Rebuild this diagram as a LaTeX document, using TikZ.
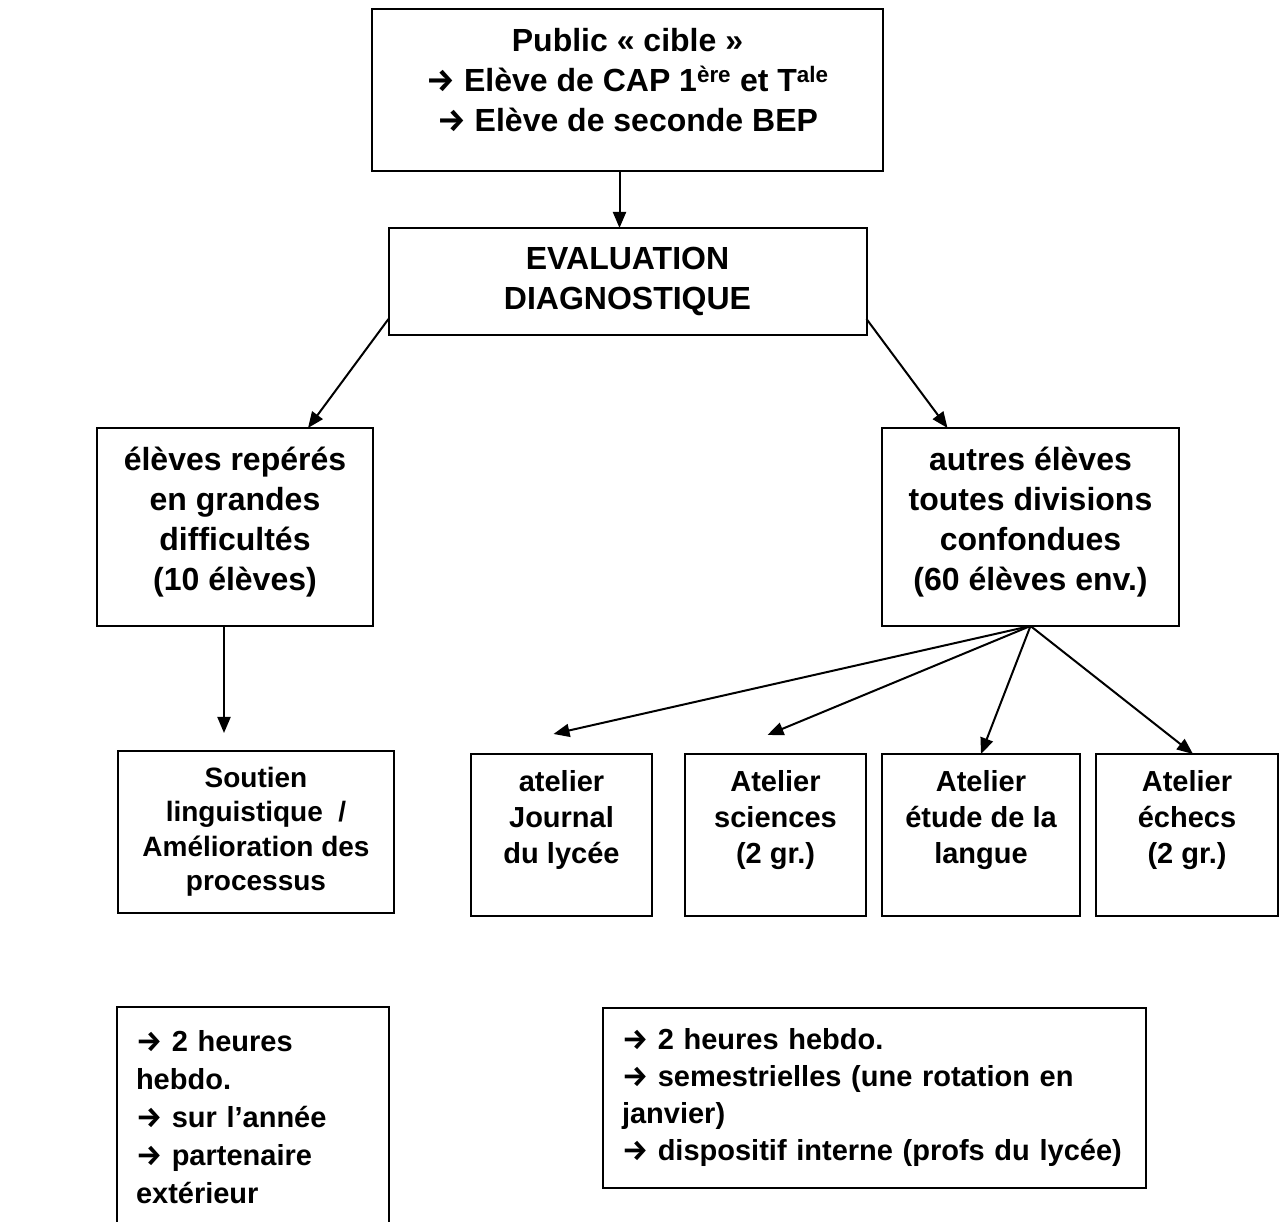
\documentclass[tikz,border=0pt]{standalone}
\usepackage{fontspec}
\setmainfont{Liberation Sans}
\newfontfamily\arrowfont{Fira Sans}
\newcommand{\fleche}{{\arrowfont\bfseries →}}
\usetikzlibrary{arrows.meta,positioning}

\begin{document}
\begin{tikzpicture}[
    x=1pt, y=1pt,
    box/.style={rectangle, draw, line width=2pt, inner sep=0pt, outer sep=0pt, align=center, font=\bfseries\fontsize{32}{40}\selectfont},
    group/.style={box, minimum width=276pt, minimum height=198pt},
    atelier/.style={box, minimum width=181pt, minimum height=162pt, font=\bfseries\fontsize{29}{36}\selectfont},
    planning/.style={box, align=left, inner xsep=19pt, font=\bfseries\fontsize{29}{38}\selectfont},
    arrow/.style={-{Triangle[length=16pt, width=13pt]}, line width=2pt}
]
\useasboundingbox (0,0) rectangle (1284,1222);

% Top row - target public and evaluation
\node[box, minimum width=511pt, minimum height=162pt] (public) at (627.5,1132)
    {Public « cible »\\\fleche{} Elève de CAP 1\textsuperscript{ère} et T\textsuperscript{ale}\\\fleche{} Elève de seconde BEP\\[-20pt]\mbox{}};
\node[box, minimum width=478pt, minimum height=107pt, below=57pt of public] (eval) {EVALUATION\\DIAGNOSTIQUE};

% Middle row - pupil groups
\node[group] (eleves) at (235,695) {élèves repérés\\en grandes\\difficultés\\(10 élèves)\\[-24pt]\mbox{}};
\node[group, minimum width=297pt] (autres) at (1030.5,695) {autres élèves\\toutes divisions\\confondues\\(60 élèves env.)\\[-24pt]\mbox{}};

% Lower row - support and workshops
\node[atelier, minimum width=276pt, font=\bfseries\fontsize{28}{34.5}\selectfont] (soutien) at (256,390)
    {Soutien\\linguistique~ /\\Amélioration des\\processus};
\node[atelier] (journal) at (561.5,387) {atelier\\Journal\\du lycée\\\mbox{}};
\node[atelier, right=33pt of journal] (sciences) {Atelier\\sciences\\(2 gr.)\\\mbox{}};
\node[atelier, minimum width=198pt, right=16pt of sciences] (etude) {Atelier\\étude de la\\langue\\\mbox{}};
\node[atelier, minimum width=182pt, right=16pt of etude] (echecs) {Atelier\\échecs\\(2 gr.)\\\mbox{}};

% Bottom row - timetable notes
\node[planning, text width=234pt, minimum height=221pt] (heures) at (253,104.5)
    {\fleche{} 2 heures\\hebdo.\\\fleche{} sur l’année\\\fleche{} partenaire\\extérieur};
\node[planning, text width=505pt, minimum height=180pt, font=\bfseries\fontsize{29}{37}\selectfont] (rythme) at (874.5,124)
    {\fleche{} 2 heures hebdo.\\\fleche{} semestrielles (une rotation en\\janvier)\\\fleche{} dispositif interne (profs du lycée)};

% Main flow arrows
\draw[arrow] ([xshift=-8pt]public.south) -- ([xshift=-8pt]eval.north);
\draw[arrow] ([yshift=16pt]eval.south west) -- ([xshift=73pt]eleves.north);
\draw[arrow] ([yshift=16pt]eval.south east) -- ([xshift=-83pt]autres.north);
\draw[arrow] ([xshift=-11pt]eleves.south) -- ([xshift=-32pt, yshift=18pt]soutien.north);

% Workshop arrows
\draw[arrow] (autres.south) -- ([xshift=-8pt, yshift=20pt]journal.north);
\draw[arrow] (autres.south) -- ([xshift=-8pt, yshift=19pt]sciences.north);
\draw[arrow] (autres.south) -- (etude.north);
\draw[arrow] (autres.south) -- ([xshift=6pt]echecs.north);

\end{tikzpicture}
\end{document}
